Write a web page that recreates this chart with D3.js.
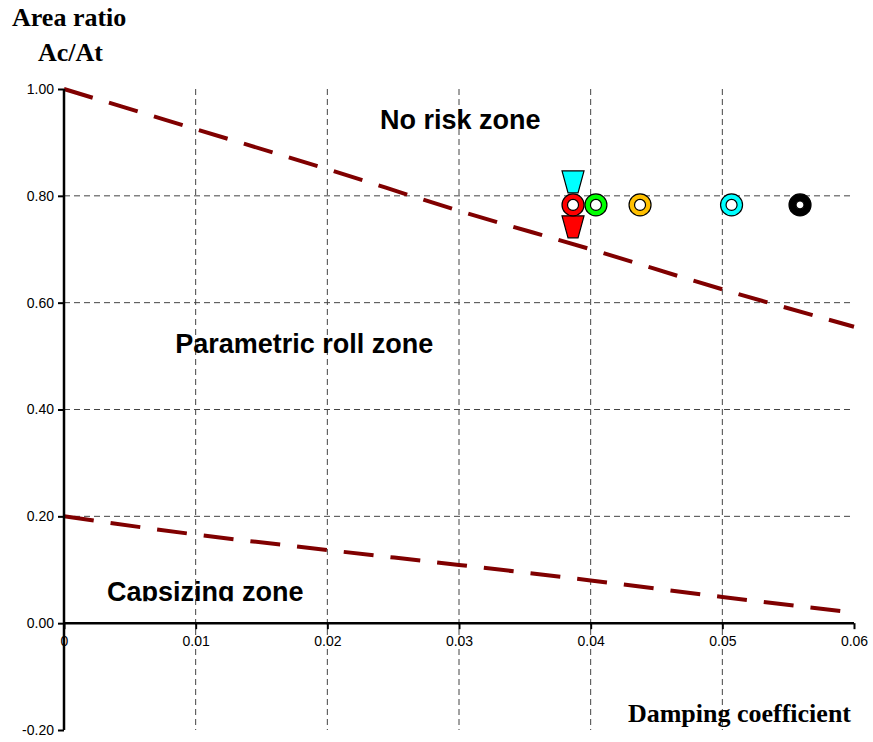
<!DOCTYPE html>
<html><head><meta charset="utf-8">
<script src="https://cdn.jsdelivr.net/npm/d3@7"></script>
<style>body{margin:0;background:#fff}</style>
</head><body>
<svg id="c" width="873" height="742"></svg>
<script>
const xTicks = [0, 0.01, 0.02, 0.03, 0.04, 0.05, 0.06];
const xTickLabels = ["0", "0.01", "0.02", "0.03", "0.04", "0.05", "0.06"];
const yTicks = [-0.2, 0, 0.2, 0.4, 0.6, 0.8, 1.0];
const yTickLabels = ["-0.20", "0.00", "0.20", "0.40", "0.60", "0.80", "1.00"];
const upperBoundary = [[0,1.0],[0.01,0.925],[0.02,0.85],[0.03,0.772],[0.04,0.70],[0.05,0.625],[0.06,0.555]];
const lowerBoundary = [[0,0.20],[0.01,0.166],[0.02,0.137],[0.03,0.109],[0.04,0.080],[0.05,0.049],[0.06,0.020]];
const ringPoints = [
  {x:0.03866, y:0.783, color:"#ff0000"},
  {x:0.0404, y:0.783, color:"#00ff00"},
  {x:0.04375, y:0.783, color:"#ffc000"},
  {x:0.0507, y:0.783, color:"#00ffff"},
  {x:0.0559, y:0.783, color:"#000000"}
];
const triPoints = [
  {x:0.03866, y:0.826, color:"#00ffff"},
  {x:0.03866, y:0.742, color:"#ff0000"}
];
const zoneLabels = [
  {text:"No risk zone", x:0.0301, y:0.925, anchor:"middle"},
  {text:"Parametric roll zone", x:0.00845, y:0.505, anchor:"start"},
  {text:"Capsizing zone", x:0.00327, y:0.042, anchor:"start"}
];

const svg = d3.select("#c");
const x = d3.scaleLinear().domain([0, 0.06]).range([64, 854]);
const y = d3.scaleLinear().domain([-0.2, 1.0]).range([730, 89]);

// grid
const g = svg.append("g");
g.selectAll(".vg").data(xTicks.slice(1,6)).join("line")
  .attr("x1", d=>x(d)).attr("x2", d=>x(d)).attr("y1", y(1.0)).attr("y2", y(-0.2))
  .attr("stroke", "#444").attr("stroke-width", 1).attr("stroke-dasharray", "6,4");
g.selectAll(".hg").data([0.2,0.4,0.6,0.8]).join("line")
  .attr("x1", x(0)).attr("x2", x(0.06)).attr("y1", d=>y(d)).attr("y2", d=>y(d))
  .attr("stroke", "#444").attr("stroke-width", 1).attr("stroke-dasharray", "6,4");

// zone labels
const clip = svg.append("clipPath").attr("id","cl").append("rect")
  .attr("x",0).attr("y",0).attr("width",873).attr("height", y(0.041));
svg.selectAll(".zl").data(zoneLabels).join("text")
  .attr("x", d=>x(d.x)).attr("y", d=>y(d.y)).attr("text-anchor", d=>d.anchor)
  .attr("font-family", "Liberation Sans, Arial, sans-serif").attr("font-weight", "bold")
  .attr("font-size", 27).attr("fill", "#000")
  .attr("clip-path", d=>d.text==="Capsizing zone" ? "url(#cl)" : null)
  .text(d=>d.text);

// boundary lines
const line = d3.line().x(d=>x(d[0])).y(d=>y(d[1])).curve(d3.curveMonotoneX);
[upperBoundary, lowerBoundary].forEach(data=>{
  svg.append("path").attr("d", line(data)).attr("fill","none")
    .attr("stroke","#800000").attr("stroke-width",4).attr("stroke-dasharray","30,17");
});

// axes
const xAxis = d3.axisBottom(x).tickValues(xTicks).tickFormat((d,i)=>xTickLabels[i]).tickSize(6).tickPadding(7);
const yAxis = d3.axisLeft(y).tickValues(yTicks).tickFormat((d,i)=>yTickLabels[i]).tickSize(6).tickPadding(4);
const ax = svg.append("g").attr("transform", `translate(0,${y(0)})`).call(xAxis);
const ay = svg.append("g").attr("transform", `translate(${x(0)},0)`).call(yAxis);
[ax, ay].forEach(a=>{
  a.select(".domain").attr("stroke","#000").attr("stroke-width",2.5);
  a.selectAll(".tick line").attr("stroke","#000").attr("stroke-width",2);
  a.selectAll(".tick text").attr("font-family","Liberation Sans, Arial, sans-serif").attr("font-size",14).attr("fill","#000");
});
ax.select(".domain").attr("d", `M${x(0)},0H${x(0.06)}`);
ay.select(".domain").attr("d", `M0,${y(1.0)}V${y(-0.2)}`);

// markers
svg.selectAll(".tri").data(triPoints).join("path")
  .attr("transform", d=>`translate(${x(d.x)},${y(d.y)})`)
  .attr("d", "M-11,-11 L11,-11 L5,11 L-5,11 Z")
  .attr("fill", d=>d.color).attr("stroke","#000").attr("stroke-width",1.2);
const rings = svg.selectAll(".ring").data(ringPoints).join("g")
  .attr("transform", d=>`translate(${x(d.x)},${y(d.y)})`);
rings.append("circle").attr("r", 11).attr("fill", d=>d.color).attr("stroke","#000").attr("stroke-width",1.2);
rings.append("circle").attr("r", d=>d.color==="#000000"?4:5.5).attr("fill","#fff").attr("stroke","#000").attr("stroke-width",1.2);

// axis titles
const serif = "Liberation Serif, Times New Roman, serif";
svg.append("text").attr("x",12).attr("y",26).attr("font-family",serif).attr("font-weight","bold").attr("font-size",26).text("Area ratio");
svg.append("text").attr("x",38).attr("y",61).attr("font-family",serif).attr("font-weight","bold").attr("font-size",26).text("Ac/At");
svg.append("text").attr("x",851).attr("y",722).attr("text-anchor","end").attr("font-family",serif).attr("font-weight","bold").attr("font-size",26).text("Damping coefficient");
</script>
</body></html>
